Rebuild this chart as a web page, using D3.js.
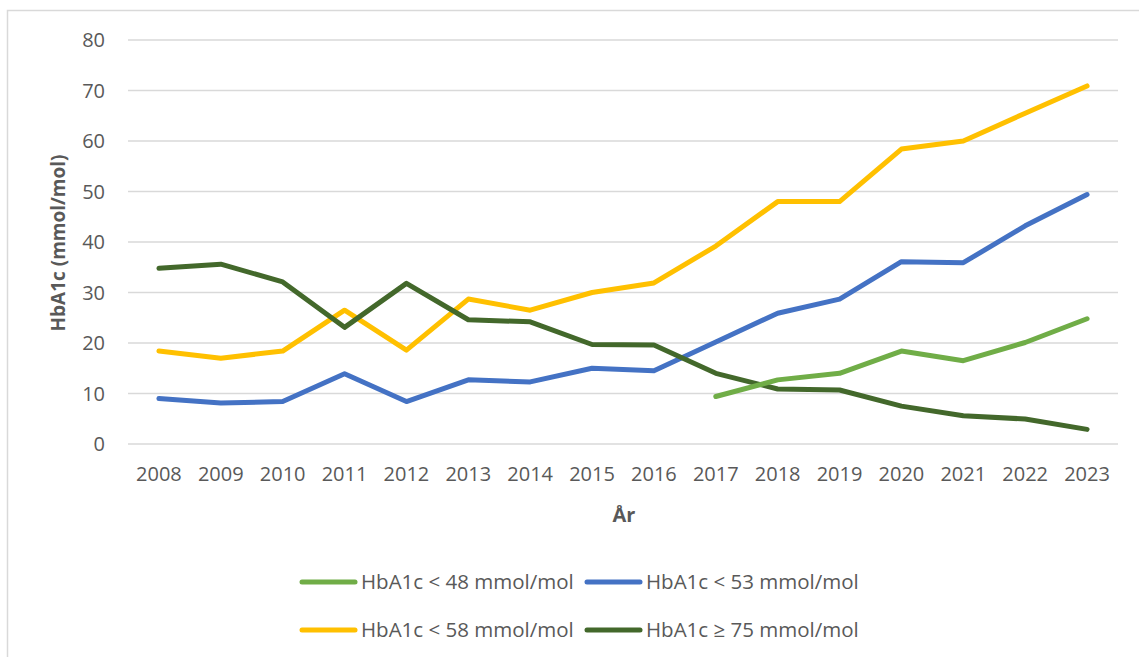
<!DOCTYPE html>
<html>
<head>
<meta charset="utf-8">
<script src="https://cdn.jsdelivr.net/npm/d3@7"></script>
<style>
  body { margin: 0; background: #fff; }
  text { font-family: "Open Sans", "Noto Sans", sans-serif; fill: #595959; }
</style>
</head>
<body>
<svg id="chart"></svg>
<script>
// years on x axis
const years = ["2008","2009","2010","2011","2012","2013","2014","2015","2016","2017","2018","2019","2020","2021","2022","2023"];
const yTicks = [0, 10, 20, 30, 40, 50, 60, 70, 80];

// series values (null = no data)
const lt48 = [null,null,null,null,null,null,null,null,null,9.4,12.7,14.0,18.4,16.5,20.1,24.8];
const lt53 = [9.0,8.1,8.4,13.9,8.4,12.7,12.3,15.0,14.5,20.2,25.9,28.7,36.1,35.9,43.2,49.4];
const lt58 = [18.4,17.0,18.4,26.5,18.6,28.7,26.5,30.0,31.9,39.2,48.0,48.0,58.4,60.0,65.5,70.9];
const ge75 = [34.8,35.6,32.1,23.1,31.8,24.6,24.2,19.7,19.6,14.0,10.9,10.7,7.5,5.6,4.95,2.9];

const seriesNames = ["HbA1c < 48 mmol/mol","HbA1c < 53 mmol/mol","HbA1c < 58 mmol/mol","HbA1c \u2265 75 mmol/mol"];
const seriesColors = ["#70ad47","#4472c4","#ffc000","#43682b"];

const W = 1139, H = 657;
const margin = { left: 128, right: 21, top: 40, bottom: 213 };

const svg = d3.select("#chart").attr("width", W).attr("height", H);

// chart border
svg.append("rect")
  .attr("x", 7.5).attr("y", 10.5)
  .attr("width", W).attr("height", H)
  .attr("fill", "none").attr("stroke", "#d9d9d9").attr("stroke-width", 1.5);

const x = d3.scaleBand().domain(years).range([margin.left, W - margin.right]);
const y = d3.scaleLinear().domain([0, 80]).range([H - margin.bottom, margin.top]);

// gridlines
svg.append("g")
  .selectAll("line")
  .data(yTicks)
  .join("line")
    .attr("x1", margin.left).attr("x2", W - margin.right)
    .attr("y1", d => y(d)).attr("y2", d => y(d))
    .attr("stroke", "#d9d9d9").attr("stroke-width", 1.3);

// y tick labels
svg.append("g")
  .selectAll("text")
  .data(yTicks)
  .join("text")
    .attr("x", 105).attr("y", d => y(d))
    .attr("dy", "0.35em")
    .attr("text-anchor", "end")
    .attr("font-size", 20)
    .text(d => d);

// x tick labels
svg.append("g")
  .selectAll("text")
  .data(years)
  .join("text")
    .attr("x", d => x(d) + x.bandwidth() / 2)
    .attr("y", 474)
    .attr("dy", "0.35em")
    .attr("text-anchor", "middle")
    .attr("font-size", 20)
    .text(d => d);

// axis titles
svg.append("text")
  .attr("transform", "translate(58,243) rotate(-90)")
  .attr("text-anchor", "middle")
  .attr("dy", "0.35em")
  .attr("font-size", 19)
  .attr("font-weight", "bold")
  .text("HbA1c (mmol/mol)");

svg.append("text")
  .attr("x", 624).attr("y", 515)
  .attr("dy", "0.35em")
  .attr("text-anchor", "middle")
  .attr("font-size", 20)
  .attr("font-weight", "bold")
  .text("År");

// lines
const allSeries = [lt48, lt53, lt58, ge75];
const line = d3.line()
  .defined(d => d.v != null)
  .x(d => x(d.year) + x.bandwidth() / 2)
  .y(d => y(d.v));

// draw order: yellow, blue, dark green, green on top
const drawOrder = [2, 1, 3, 0];
svg.append("g")
  .selectAll("path")
  .data(drawOrder)
  .join("path")
    .attr("d", i => line(allSeries[i].map((v, j) => ({ year: years[j], v: v }))))
    .attr("fill", "none")
    .attr("stroke", i => seriesColors[i])
    .attr("stroke-width", 5)
    .attr("stroke-linejoin", "round")
    .attr("stroke-linecap", "round");

// legend
const legendPos = [
  { x: 302, y: 582 }, { x: 587, y: 582 },
  { x: 302, y: 630 }, { x: 587, y: 630 }
];
const legend = svg.append("g")
  .selectAll("g")
  .data(seriesNames)
  .join("g")
    .attr("transform", (d, i) => "translate(" + legendPos[i].x + "," + legendPos[i].y + ")");

legend.append("line")
  .attr("x1", 0).attr("x2", 53)
  .attr("stroke", (d, i) => seriesColors[i])
  .attr("stroke-width", 5)
  .attr("stroke-linecap", "round");

legend.append("text")
  .attr("x", 59)
  .attr("dy", "0.35em")
  .attr("font-size", 20.5)
  .text(d => d);
</script>
</body>
</html>
